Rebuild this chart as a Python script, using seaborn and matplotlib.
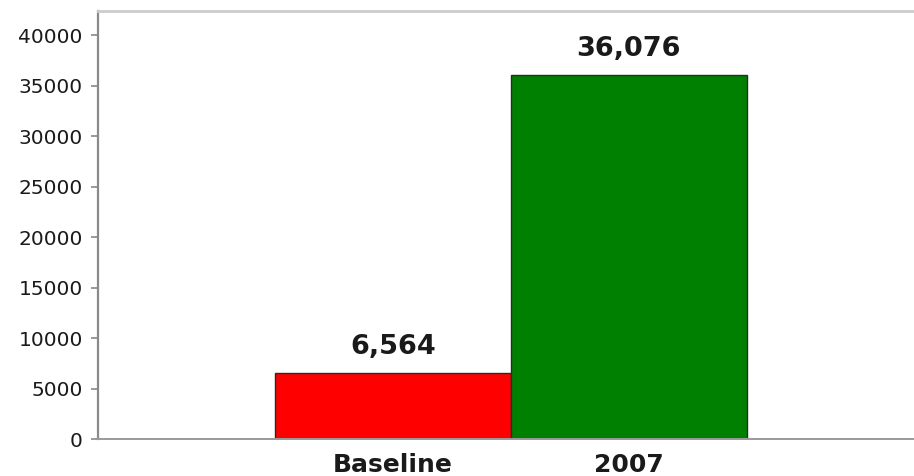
import matplotlib
matplotlib.use("Agg")
import matplotlib.pyplot as plt
import seaborn as sns
import pandas as pd

# Chart data
categories = ["Baseline", "2007"]
values = [6564, 36076]
value_labels = ["6,564", "36,076"]
bar_colors = ["#ff0000", "#008000"]
y_ticks = [0, 5000, 10000, 15000, 20000, 25000, 30000, 35000, 40000]

df = pd.DataFrame({"category": categories, "value": values})

sns.set_theme(style="white")
plt.rcParams["font.family"] = ["DejaVu Sans"]

fig = plt.figure(figsize=(9.14, 4.76), dpi=100)
ax = fig.add_axes([0.1072, 0.0777, 0.8928, 0.8992])

sns.barplot(data=df, x="category", y="value", hue="category",
            palette=bar_colors, order=categories, hue_order=categories,
            width=1.0, legend=False, edgecolor="#2a2a2a", linewidth=1.0,
            saturation=1.0, ax=ax)

ax.set_xlim(-1.25, 2.21)
ax.set_ylim(0, 42400)
ax.set_yticks(y_ticks)
ax.set_yticklabels([str(t) for t in y_ticks], fontsize=14.5, color="#1a1a1a")
ax.set_xlabel("")
ax.set_ylabel("")
ax.tick_params(axis="y", which="major", left=True, length=5, width=1.2,
               color="#888888", pad=6)
ax.tick_params(axis="x", length=0, pad=10)
for lbl in ax.get_xticklabels():
    lbl.set_fontsize(18)
    lbl.set_fontweight("bold")
    lbl.set_color("#1a1a1a")

# Value labels above each bar
for i, (v, txt) in enumerate(zip(values, value_labels)):
    ax.annotate(txt, xy=(i, v), xytext=(0, 9), textcoords="offset points",
                ha="center", va="bottom", fontsize=19.5, fontweight="bold",
                color="#1a1a1a")

ax.spines["left"].set_color("#8a8a8a")
ax.spines["left"].set_linewidth(1.6)
ax.spines["bottom"].set_color("#9a9a9a")
ax.spines["bottom"].set_linewidth(1.4)
ax.spines["top"].set_color("#cccccc")
ax.spines["top"].set_linewidth(2.0)
ax.spines["right"].set_visible(False)

fig.savefig("out.png", dpi=100, facecolor="white")
